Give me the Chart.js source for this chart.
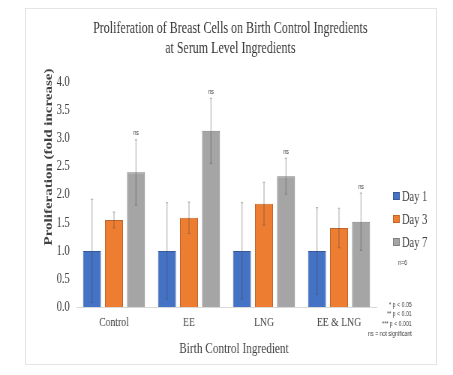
<!DOCTYPE html>
<html>
<head>
<meta charset="utf-8">
<script src="https://cdn.jsdelivr.net/npm/chart.js@4"></script>
<style>
  html, body { margin: 0; padding: 0; background: #ffffff; overflow: hidden; }
  #wrap { position: relative; width: 453px; height: 375px; }
  #card { position: absolute; left: 25px; top: 8px; width: 410px; height: 355px; border: 1px solid #e4e4e4; background: #fff; }
  #c { position: absolute; left: 0; top: 0; transform: scaleX(0.75); transform-origin: 0 0; }
</style>
</head>
<body>
<div id="wrap">
  <div id="card"></div>
  <canvas id="c" width="604" height="375"></canvas>
</div>
<script>
// ---- data ----
const titleLines = ['Proliferation of Breast Cells on Birth Control Ingredients', 'at Serum Level Ingredients'];
const categories = ['Control', 'EE', 'LNG', 'EE & LNG'];
const seriesLabels = ['Day 1', 'Day 3', 'Day 7'];
const day1 = [1.00, 1.00, 1.00, 1.00];
const day3 = [1.55, 1.59, 1.84, 1.41];
const day7 = [2.40, 3.14, 2.33, 1.52];
const day1Err = [0.92, 0.86, 0.86, 0.77];
const day3Err = [0.14, 0.28, 0.38, 0.35];
const day7Err = [0.58, 0.58, 0.32, 0.51];
const day7Sig = ['ns', 'ns', 'ns', 'ns'];
const yTicks = ['0.0', '0.5', '1.0', '1.5', '2.0', '2.5', '3.0', '3.5', '4.0'];
const xAxisTitle = 'Birth Control Ingredient';
const yAxisTitle = 'Proliferation (fold increase)';
const sampleNote = 'n=6';
const footnotes = ['* p < 0.05', '** p < 0.01', '*** p < 0.001', 'ns = not significant'];

const fills = ['#4472C4', '#ED7D31', '#A5A5A5'];
const borders = ['#35599b', '#c0652a', '#7f7f7f'];
const serif = "'Liberation Serif', 'Times New Roman', serif";
const sans = "'Liberation Sans', Arial, sans-serif";

const values = [day1, day3, day7];
const errs = [day1Err, day3Err, day7Err];

const extrasPlugin = {
  id: 'extras',
  afterDatasetsDraw(chart) {
    const ctx = chart.ctx;
    const y = chart.scales.y;
    ctx.save();
    // error bars
    values.forEach((vals, di) => {
      const meta = chart.getDatasetMeta(di);
      meta.data.forEach((bar, i) => {
        const top = y.getPixelForValue(vals[i] + errs[di][i]);
        const bot = y.getPixelForValue(vals[i] - errs[di][i]);
        ctx.strokeStyle = 'rgba(70,70,70,0.4)';
        ctx.lineWidth = 1.2;
        ctx.beginPath();
        ctx.moveTo(bar.x, top); ctx.lineTo(bar.x, bot);
        ctx.moveTo(bar.x - 1.5, top); ctx.lineTo(bar.x + 1.5, top);
        ctx.moveTo(bar.x - 1.5, bot); ctx.lineTo(bar.x + 1.5, bot);
        ctx.stroke();
      });
    });
    // significance labels above Day 7
    const m7 = chart.getDatasetMeta(2);
    ctx.fillStyle = '#404040';
    ctx.font = "7px " + sans;
    ctx.textAlign = 'center';
    ctx.textBaseline = 'bottom';
    m7.data.forEach((bar, i) => {
      const top = y.getPixelForValue(day7[i] + day7Err[i]);
      ctx.fillText(day7Sig[i], bar.x, top - 3);
    });
    ctx.restore();
  },
  afterDraw(chart) {
    const ctx = chart.ctx;
    ctx.save();
    // x axis title
    ctx.fillStyle = '#404040';
    ctx.font = "15px " + serif;
    ctx.textAlign = 'center';
    ctx.textBaseline = 'middle';
    ctx.fillText(xAxisTitle, 312, 349);
    // y axis title
    ctx.save();
    ctx.translate(65, 157);
    ctx.rotate(-Math.PI / 2);
    ctx.font = "bold 15px " + serif;
    ctx.fillText(yAxisTitle, 0, 0);
    ctx.restore();
    // legend
    const ly = [196, 219, 242];
    seriesLabels.forEach((lab, i) => {
      ctx.fillStyle = fills[i];
      ctx.fillRect(524, ly[i] - 4, 9, 8);
      ctx.strokeStyle = borders[i];
      ctx.lineWidth = 1;
      ctx.strokeRect(524.5, ly[i] - 3.5, 8, 7);
      ctx.fillStyle = '#404040';
      ctx.font = "14px " + serif;
      ctx.textAlign = 'left';
      ctx.textBaseline = 'middle';
      ctx.fillText(lab, 536, ly[i] + 1);
    });
    // notes
    ctx.font = "7px " + sans;
    ctx.fillStyle = '#404040';
    ctx.textAlign = 'center';
    ctx.fillText(sampleNote, 537, 263);
    ctx.textAlign = 'right';
    const fy = [305, 314.5, 324.5, 334.5];
    footnotes.forEach((t, i) => ctx.fillText(t, 549, fy[i]));
    ctx.restore();
  }
};

new Chart(document.getElementById('c'), {
  type: 'bar',
  data: {
    labels: categories,
    datasets: seriesLabels.map((lab, i) => ({
      label: lab,
      data: values[i],
      backgroundColor: fills[i],
      borderColor: borders[i],
      borderWidth: 1,
      categoryPercentage: 0.88,
      barPercentage: 0.818
    }))
  },
  options: {
    responsive: false,
    devicePixelRatio: 1,
    animation: false,
    layout: { padding: { left: 10, right: 0, top: 0, bottom: 28 } },
    plugins: {
      legend: { display: false },
      tooltip: { enabled: false },
      title: {
        display: true,
        text: titleLines,
        color: '#333333',
        font: { family: serif, size: 16, weight: 'normal', lineHeight: 1.3 },
        padding: { top: 18, bottom: 23 }
      }
    },
    scales: {
      x: {
        grid: { display: false, drawTicks: false },
        border: { display: true, color: '#d9d9d9', width: 1 },
        ticks: { color: '#404040', font: { family: serif, size: 13 }, padding: 8 },
        afterFit(s) { s.height = 40; }
      },
      y: {
        min: 0, max: 4,
        grid: { display: false, drawTicks: false },
        border: { display: false },
        ticks: {
          stepSize: 0.5,
          color: '#404040',
          font: { family: serif, size: 14 },
          padding: 9,
          callback: (v, i) => yTicks[i]
        },
        afterFit(s) { s.width = 92; }
      },
      y2: {
        position: 'right',
        display: true,
        min: 0, max: 4,
        grid: { display: false, drawTicks: false },
        border: { display: false },
        ticks: { display: false },
        afterFit(s) { s.width = 102; }
      }
    }
  },
  plugins: [extrasPlugin]
});
</script>
</body>
</html>
